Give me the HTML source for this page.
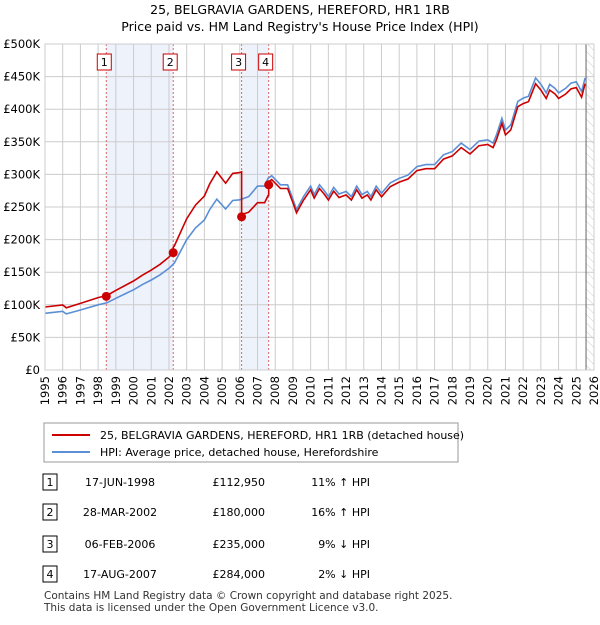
<!DOCTYPE html>
<html><head><meta charset="utf-8">
<style>
body{margin:0;background:#fff;font-family:"Liberation Sans","DejaVu Sans",sans-serif;}
svg text{font-family:"DejaVu Sans","Liberation Sans",sans-serif;}
</style></head>
<body>
<svg id="chart" width="600" height="620" xmlns="http://www.w3.org/2000/svg">
<defs>
<pattern id="hatch" patternUnits="userSpaceOnUse" width="6" height="6" patternTransform="rotate(-45)">
<line x1="0" y1="0" x2="0" y2="6" stroke="#ccc" stroke-width="1"/></pattern>
</defs>
<text x="300" y="14" text-anchor="middle" font-size="12.5">25, BELGRAVIA GARDENS, HEREFORD, HR1 1RB</text>
<text x="300" y="31" text-anchor="middle" font-size="12.5">Price paid vs. HM Land Registry's House Price Index (HPI)</text>
<g id="plot"></g>
<g>
<rect x="44" y="423" width="414" height="39" fill="#fff" stroke="#999"/>
<line x1="52" y1="435" x2="90" y2="435" stroke="#cc0000" stroke-width="2"/>
<text x="100" y="439" font-size="11">25, BELGRAVIA GARDENS, HEREFORD, HR1 1RB (detached house)</text>
<line x1="52" y1="452" x2="90" y2="452" stroke="#5b8fd6" stroke-width="2"/>
<text x="100" y="456" font-size="11">HPI: Average price, detached house, Herefordshire</text>
</g>
<g id="table" font-size="11"></g>
<text x="44" y="599" font-size="10.5" fill="#333">Contains HM Land Registry data © Crown copyright and database right 2025.</text>
<text x="44" y="611" font-size="10.5" fill="#333">This data is licensed under the Open Government Licence v3.0.</text>
</svg>
<script>
const hpiYears=[1995,1996,1996.2,1997,1998,1998.5,1999,2000,2000.5,2001,2001.5,2002,2002.3,2003,2003.5,2004,2004.3,2004.7,2005.2,2005.6,2006,2006.5,2007,2007.4,2007.6,2007.8,2008.3,2008.7,2009,2009.2,2009.6,2010,2010.2,2010.5,2010.8,2011,2011.3,2011.6,2012,2012.3,2012.6,2012.9,2013.2,2013.4,2013.7,2014,2014.5,2015,2015.5,2016,2016.5,2017,2017.5,2018,2018.5,2019,2019.5,2020,2020.3,2020.5,2020.8,2021,2021.3,2021.7,2022,2022.3,2022.7,2023,2023.3,2023.5,2023.8,2024,2024.4,2024.7,2025,2025.3,2025.5];
const hpiValues=[87,90,86,92,100,103,110,123,131,138,146,156,164,200,218,230,246,262,247,260,261,266,282,282,294,298,284,284,262,246,266,282,269,284,274,266,280,270,274,266,282,269,274,266,282,271,287,294,299,312,315,315,330,335,348,338,351,353,348,361,386,368,376,412,417,420,448,438,425,438,432,425,432,440,442,427,448];
const saleDates=[1998.46,2002.24,2006.1,2007.63];
const salePrices=[112950,180000,235000,284000];
const saleLabels=["17-JUN-1998","28-MAR-2002","06-FEB-2006","17-AUG-2007"];
const salePriceText=["£112,950","£180,000","£235,000","£284,000"];
const saleHpiText=["11% ↑ HPI","16% ↑ HPI","9% ↓ HPI","2% ↓ HPI"];
const saleFactors=[1.11,1.16,0.91,0.98];
const yTicks=[0,50,100,150,200,250,300,350,400,450,500];
const xTicks=[1995,1996,1997,1998,1999,2000,2001,2002,2003,2004,2005,2006,2007,2008,2009,2010,2011,2012,2013,2014,2015,2016,2017,2018,2019,2020,2021,2022,2023,2024,2025,2026];

const NS="http://www.w3.org/2000/svg";
const X0=45,X1=594,Y0=370,Y1=44;
const xs=y=>X0+(y-1995)/(2026-1995)*(X1-X0);
const ys=v=>Y0-v/500*(Y0-Y1);
const plot=document.getElementById('plot');
function mk(tag,attrs,parent){const e=document.createElementNS(NS,tag);for(const k in attrs)e.setAttribute(k,attrs[k]);(parent||plot).appendChild(e);return e;}
for(let i=0;i<4;i+=2){
 const r=mk('rect',{x:xs(saleDates[i]),y:Y1,width:xs(saleDates[i+1])-xs(saleDates[i]),height:Y0-Y1,fill:'#eef2fb'});
 
 
}
const hx=xs(2025.55);
mk('rect',{x:hx,y:Y1,width:X1-hx,height:Y0-Y1,fill:'url(#hatch)'});
yTicks.forEach(t=>{
 mk('line',{x1:X0,x2:X1,y1:ys(t),y2:ys(t),stroke:'#ccc'});
 const tx=mk('text',{x:X0-5,y:ys(t)+4,'text-anchor':'end','font-size':'11.5'});
 tx.textContent=t===0?'£0':'£'+t+'K';
 
 
});
xTicks.forEach(t=>{
 mk('line',{x1:xs(t),x2:xs(t),y1:Y1,y2:Y0,stroke:'#ccc'});
 const tx=mk('text',{x:0,y:0,'text-anchor':'end','font-size':'11.5',transform:`translate(${xs(t)+4},${Y0+6}) rotate(-90)`});
 tx.textContent=t;
 
 
});
mk('line',{x1:hx,x2:hx,y1:Y1,y2:Y0,stroke:'#666'});
saleDates.forEach((d,i)=>{
 mk('line',{x1:xs(d),x2:xs(d),y1:Y1,y2:Y0,stroke:'#e06666','stroke-dasharray':'2,2'});
 const g=mk('g',{});
 
 
 const off=[-2,-3,-3,-3][i];
 mk('rect',{x:xs(d)+off-7,y:54,width:14,height:16,fill:'#fff',stroke:'#cc0000'},g);
 const t=mk('text',{x:xs(d)+off,y:66,'text-anchor':'middle','font-size':'11'},g);t.textContent=i+1;
});
function segFactor(y){let f=saleFactors[0];for(let i=0;i<4;i++)if(y>=saleDates[i])f=saleFactors[i];return f;}
let bp='',rp='';
hpiYears.forEach((y,i)=>{bp+=(i?'L':'M')+xs(y).toFixed(1)+','+ys(hpiValues[i]).toFixed(1);});
let pts=[];
hpiYears.forEach((y,i)=>pts.push([y,hpiValues[i]]));
let rpts=[];
pts.forEach((p,i)=>{
 saleDates.forEach((d,k)=>{if(i>0&&pts[i-1][0]<d&&p[0]>=d){const a=pts[i-1],t=(d-a[0])/(p[0]-a[0]);const v=a[1]+t*(p[1]-a[1]);rpts.push([d,v*segFactor(d-0.001)]);rpts.push([d,v*saleFactors[k]]);}});
 rpts.push([p[0],p[1]*segFactor(p[0])]);
});
rpts.forEach((p,i)=>{rp+=(i?'L':'M')+xs(p[0]).toFixed(1)+','+ys(p[1]).toFixed(1);});
const bl=mk('path',{d:bp,fill:'none',stroke:'#5b8fd6','stroke-width':'1.6'});


const rl=mk('path',{d:rp,fill:'none',stroke:'#cc0000','stroke-width':'1.6'});


saleDates.forEach((d,i)=>{
 const c=mk('circle',{cx:xs(d),cy:ys(salePrices[i]/1000),r:4.5,fill:'#cc0000'});
 
 
});
mk('rect',{x:X0,y:Y1,width:X1-X0,height:Y0-Y1,fill:'none',stroke:'#ccc'});
const tb=document.getElementById('table');
const rowY=[486,516,548,578];
saleDates.forEach((d,i)=>{
 const g=mk('g',{},tb);
 
 
 mk('rect',{x:43,y:rowY[i]-12,width:14,height:16,fill:'#fff',stroke:'#000'},g);
 let t=mk('text',{x:50,y:rowY[i],'text-anchor':'middle'},g);t.textContent=i+1;
 t=mk('text',{x:120,y:rowY[i],'text-anchor':'middle'},g);t.textContent=saleLabels[i];
 t=mk('text',{x:265,y:rowY[i],'text-anchor':'end'},g);t.textContent=salePriceText[i];
 t=mk('text',{x:370,y:rowY[i],'text-anchor':'end'},g);t.textContent=saleHpiText[i];
});
</script>
</body></html>
